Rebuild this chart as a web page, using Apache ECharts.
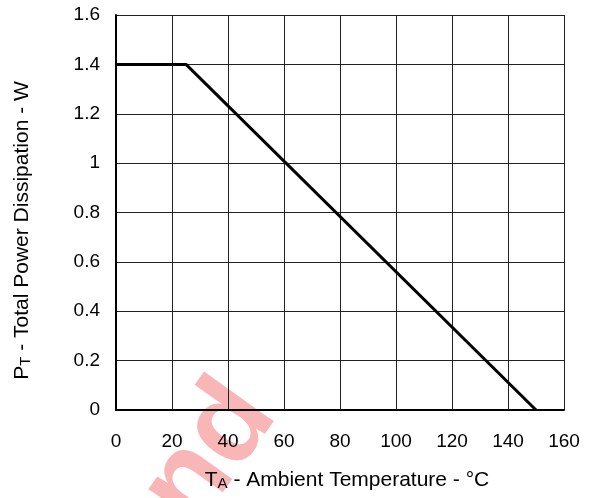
<!DOCTYPE html>
<html>
<head>
<meta charset="utf-8">
<script src="https://cdn.jsdelivr.net/npm/echarts@6/dist/echarts.min.js"></script>
<style>
html, body { margin: 0; padding: 0; background: #fff; }
#mainChart { width: 592px; height: 498px; }
</style>
</head>
<body>
<div id="mainChart"></div>
<script>
// power derating curve
var tempData = [0, 25, 150];
var powerData = [1.4, 1.4, 0];
var xTicks = [0, 20, 40, 60, 80, 100, 120, 140, 160];
var yTicks = [0, 0.2, 0.4, 0.6, 0.8, 1, 1.2, 1.4, 1.6];

var myChart = echarts.init(document.getElementById('mainChart'));

var font = '"Liberation Sans", Arial, sans-serif';
var lineData = tempData.map(function (t, i) { return [t, powerData[i]]; });

function nameRich(size) {
    return {
        a: { fontSize: size, color: '#000', fontFamily: font },
        b: { fontSize: Math.round(size * 0.7), color: '#000', fontFamily: font, verticalAlign: 'bottom', padding: [2, 0, 0, 0] }
    };
}

myChart.setOption({
    animation: false,
    textStyle: { fontFamily: font },
    grid: { left: 116, right: 28, top: 15, bottom: 88 },
    graphic: [{
        // faint watermark behind the plot
        type: 'text',
        z: -10,
        x: 300,
        y: 430,
        rotation: 0.95,
        style: {
            text: 'ond',
            align: 'right',
            verticalAlign: 'bottom',
            font: 'bold 118px "Liberation Sans", Arial, sans-serif',
            fill: '#f8b6b6'
        }
    }],
    xAxis: {
        type: 'value',
        min: xTicks[0],
        max: xTicks[xTicks.length - 1],
        interval: 20,
        name: '{a|T}{b|A}{a| - Ambient Temperature - °C}',
        nameLocation: 'middle',
        nameGap: 60,
        nameTextStyle: { rich: nameRich(21), padding: [0, 0, 0, 14] },
        axisLine: { lineStyle: { color: '#000', width: 2 } },
        axisTick: { show: false },
        axisLabel: { color: '#000', fontSize: 19, margin: 22 },
        splitLine: { lineStyle: { color: '#222', width: 1 } }
    },
    yAxis: {
        type: 'value',
        min: yTicks[0],
        max: yTicks[yTicks.length - 1],
        interval: 0.2,
        name: '{a|P}{b|T}{a| - Total Power Dissipation - W}',
        nameLocation: 'middle',
        nameRotate: 90,
        nameGap: 83,
        nameTextStyle: { rich: nameRich(21), padding: [0, 36, 0, 0] },
        axisLine: { show: true, lineStyle: { color: '#000', width: 2 } },
        axisTick: { show: false },
        axisLabel: { color: '#000', fontSize: 19, margin: 16 },
        splitLine: { lineStyle: { color: '#222', width: 1 } }
    },
    series: [{
        type: 'line',
        data: lineData,
        showSymbol: false,
        lineStyle: { color: '#000', width: 3 },
        z: 5
    }]
});
</script>
</body>
</html>
